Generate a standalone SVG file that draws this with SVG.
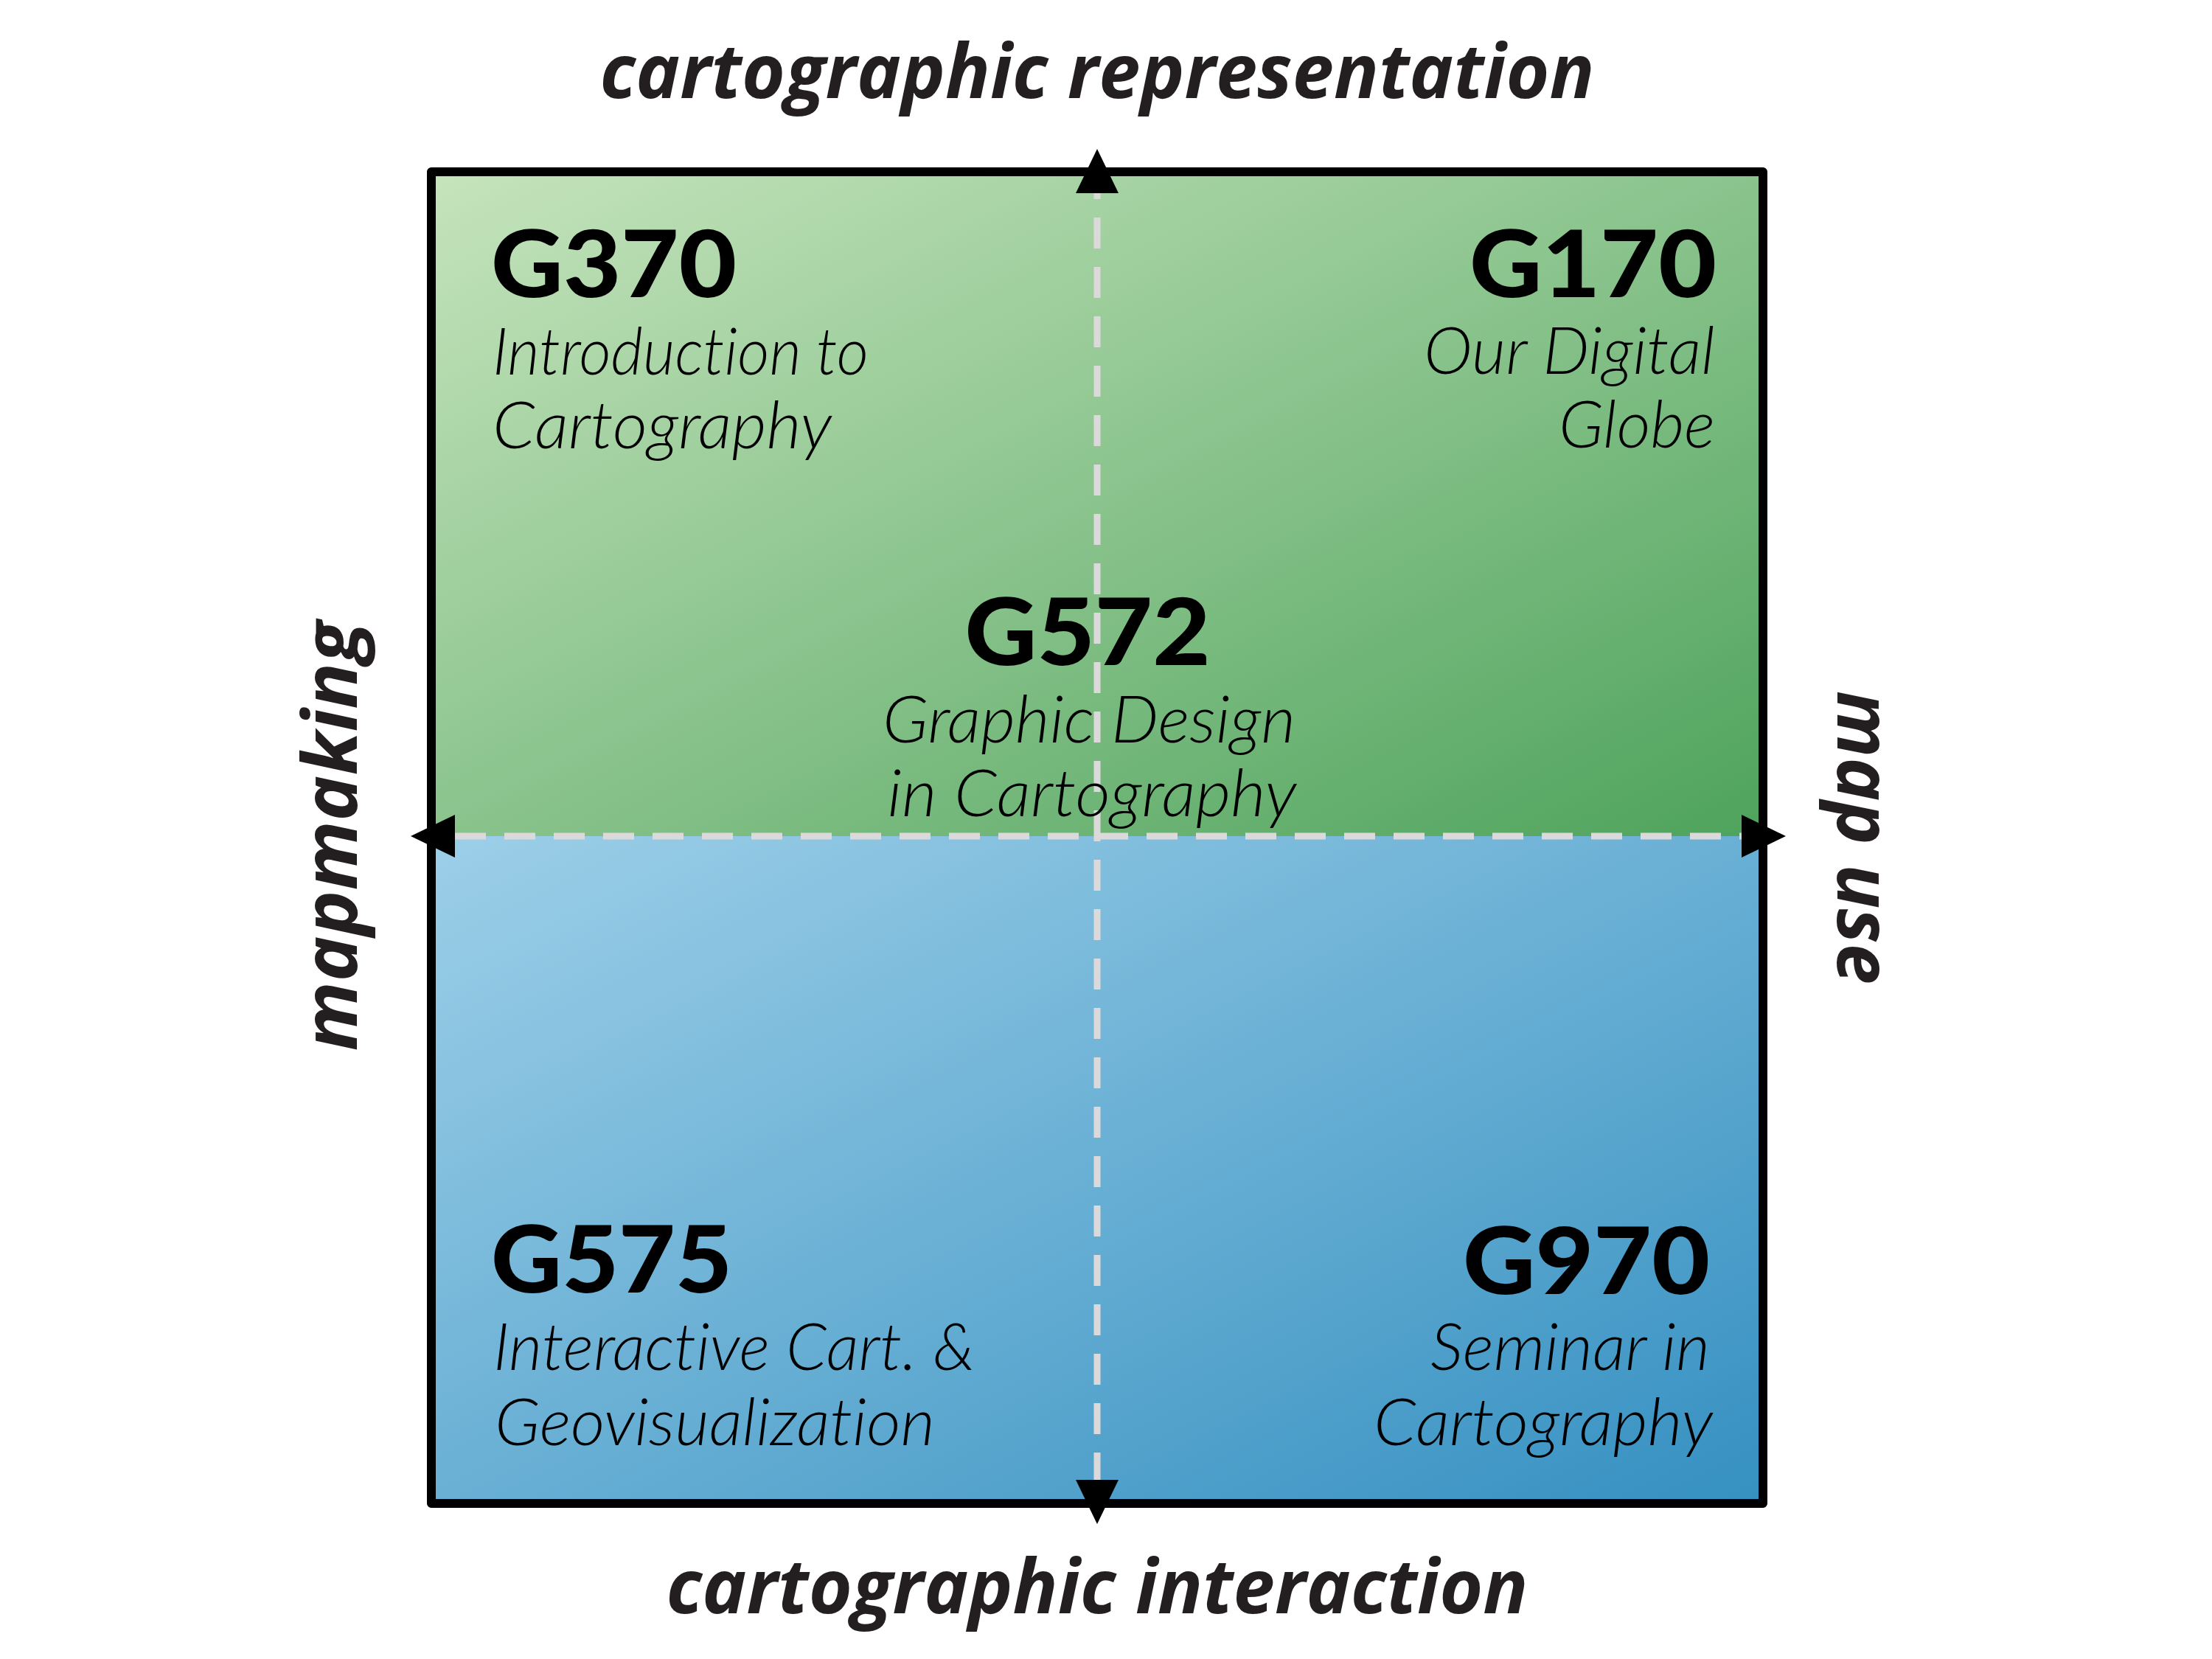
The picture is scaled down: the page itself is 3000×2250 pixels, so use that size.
<svg xmlns="http://www.w3.org/2000/svg" width="3000" height="2250" viewBox="0 0 3000 2250">
  <defs>
    <linearGradient id="gGreen" x1="0" y1="0" x2="1" y2="1">
      <stop offset="0" stop-color="#c6e4bd"/>
      <stop offset="1" stop-color="#4ea35c"/>
    </linearGradient>
    <linearGradient id="gBlue" x1="0" y1="0" x2="1" y2="1">
      <stop offset="0" stop-color="#9dcfe8"/>
      <stop offset="1" stop-color="#3590c1"/>
    </linearGradient>
    <marker id="arrow" viewBox="0 0 60 58" refX="0" refY="29" markerWidth="60" markerHeight="58" markerUnits="userSpaceOnUse" orient="auto-start-reverse">
      <path d="M0,0 L60,29 L0,58 Z" fill="#000"/>
    </marker>
    <style>
      text { font-variant-ligatures: none; font-feature-settings: "liga" 0, "dlig" 0, "clig" 0; }
      .axis { font-family: "Open Sans", "Liberation Sans", sans-serif; font-weight: 700; font-style: italic; font-size: 102px; fill: #231f20; }
      .code { font-family: Lato, "Liberation Sans", sans-serif; font-weight: 900; font-size: 125px; fill: #000; }
      .title { font-family: Lato, "Liberation Sans", sans-serif; font-weight: 300; font-style: italic; font-size: 88px; fill: #000; }
      .dash { stroke: #dcd9db; stroke-width: 9; fill: none; stroke-dasharray: 42 25; }
    </style>
  </defs>

  <g id="quadrant-fill">
    <rect x="585" y="233" width="1806" height="901" fill="url(#gGreen)"/>
    <rect x="585" y="1134" width="1806" height="905" fill="url(#gBlue)"/>
    <rect x="585" y="233" width="1806" height="1806" fill="none" stroke="#000" stroke-width="12" stroke-linejoin="round"/>
  </g>

  <g id="connectors">
    <line class="dash" x1="1488" y1="262" x2="1488" y2="2007" stroke-dashoffset="34" marker-start="url(#arrow)" marker-end="url(#arrow)"/>
    <line class="dash" x1="617" y1="1134" x2="2362" y2="1134" marker-start="url(#arrow)" marker-end="url(#arrow)"/>
  </g>

  <g id="axis-top">
    <text class="axis" x="1488" y="133" text-anchor="middle" textLength="1349" lengthAdjust="spacingAndGlyphs">cartographic representation</text>
  </g>
  <g id="axis-bottom">
    <text class="axis" x="1488" y="2188" text-anchor="middle" textLength="1169" lengthAdjust="spacingAndGlyphs">cartographic interaction</text>
  </g>
  <g id="axis-left">
    <text class="axis" transform="translate(484,1134) rotate(-90)" x="0" y="0" text-anchor="middle" textLength="583" lengthAdjust="spacingAndGlyphs">mapmaking</text>
  </g>
  <g id="axis-right">
    <text class="axis" transform="translate(2492,1136) rotate(90)" x="0" y="0" text-anchor="middle" textLength="398" lengthAdjust="spacingAndGlyphs">map use</text>
  </g>

  <g id="node-G370">
    <text class="code" x="666" y="403" textLength="333" lengthAdjust="spacingAndGlyphs">G370</text>
    <text class="title" x="668" y="508" textLength="510" lengthAdjust="spacingAndGlyphs">Introduction to</text>
    <text class="title" x="668" y="608" textLength="460" lengthAdjust="spacingAndGlyphs">Cartography</text>
  </g>

  <g id="node-G170">
    <text class="code" x="2328" y="403" text-anchor="end" textLength="335" lengthAdjust="spacingAndGlyphs">G170</text>
    <text class="title" x="2326" y="507" text-anchor="end" textLength="395" lengthAdjust="spacingAndGlyphs">Our Digital</text>
    <text class="title" x="2326" y="607" text-anchor="end" textLength="212" lengthAdjust="spacingAndGlyphs">Globe</text>
  </g>

  <g id="node-G572">
    <text class="code" x="1475" y="902" text-anchor="middle" textLength="333" lengthAdjust="spacingAndGlyphs">G572</text>
    <text class="title" x="1477" y="1007" text-anchor="middle" textLength="560" lengthAdjust="spacingAndGlyphs">Graphic Design</text>
    <text class="title" x="1481" y="1107" text-anchor="middle" textLength="555" lengthAdjust="spacingAndGlyphs">in Cartography</text>
  </g>

  <g id="node-G575">
    <text class="code" x="666" y="1753" textLength="327" lengthAdjust="spacingAndGlyphs">G575</text>
    <text class="title" x="669" y="1858" textLength="653" lengthAdjust="spacingAndGlyphs">Interactive Cart. &amp;</text>
    <text class="title" x="671" y="1960" textLength="597" lengthAdjust="spacingAndGlyphs">Geovisualization</text>
  </g>

  <g id="node-G970">
    <text class="code" x="2319" y="1755" text-anchor="end" textLength="335" lengthAdjust="spacingAndGlyphs">G970</text>
    <text class="title" x="2319" y="1858" text-anchor="end" textLength="379" lengthAdjust="spacingAndGlyphs">Seminar in</text>
    <text class="title" x="2323" y="1960" text-anchor="end" textLength="460" lengthAdjust="spacingAndGlyphs">Cartography</text>
  </g>
</svg>
